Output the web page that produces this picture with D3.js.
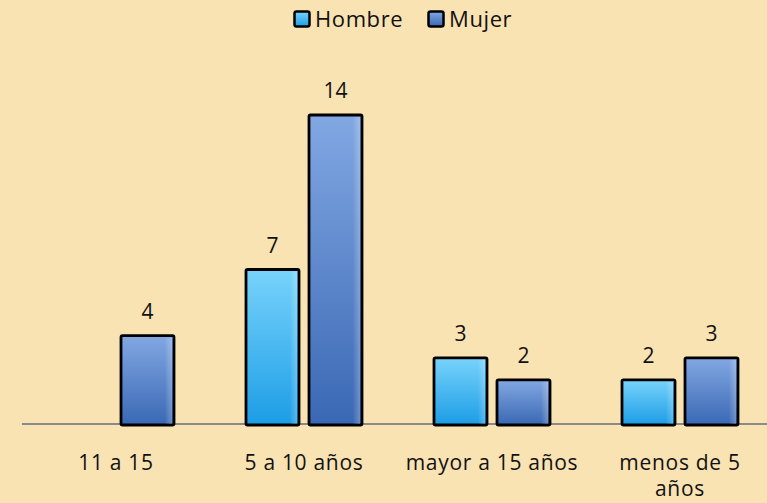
<!DOCTYPE html>
<meta charset="utf-8">
<style>
    body { margin: 0; background: #fae3b3; }
    text { font-family: "Open Sans", sans-serif; fill: #111; }
    .bar { stroke: #000; stroke-width: 2.8px; }
    .axis-line { stroke: #8a8a8a; stroke-width: 2px; }
</style>

<svg width="767" height="503"></svg>

<script src="https://cdnjs.cloudflare.com/ajax/libs/d3/7.8.5/d3.min.js"></script>
<script>
    var categories = ["11 a 15", "5 a 10 años", "mayor a 15 años", "menos de 5 años"];
    // how each category label breaks onto lines under the axis
    var labelLines = [["11 a 15"], ["5 a 10 años"], ["mayor a 15 años"], ["menos de 5", "años"]];
    var series = ["Hombre", "Mujer"];
    var hombre = [null, 7, 3, 2];
    var mujer = [4, 14, 2, 3];

    (function () {
        var svg = d3.select("svg"),
            width = +svg.attr("width"),
            height = +svg.attr("height"),
            baseY = 424;

        svg.append("rect")
            .attr("width", width)
            .attr("height", height)
            .attr("fill", "#fae3b3");

        var defs = svg.append("defs");
        var grads = [
            {id: "gH", top: "#78d3fb", bottom: "#1c9de6"},
            {id: "gM", top: "#82a8e3", bottom: "#3a68b4"}
        ];
        grads.forEach(function (g) {
            var lg = defs.append("linearGradient")
                .attr("id", g.id)
                .attr("x1", 0).attr("y1", 0)
                .attr("x2", 0).attr("y2", 1);
            lg.append("stop").attr("offset", "0%").attr("stop-color", g.top);
            lg.append("stop").attr("offset", "100%").attr("stop-color", g.bottom);
        });
        // soft highlight on the right edge of each bar
        var edge = defs.append("linearGradient")
            .attr("id", "edge")
            .attr("x1", 0).attr("y1", 0).attr("x2", 1).attr("y2", 0);
        edge.append("stop").attr("offset", "0%").attr("stop-color", "#fff").attr("stop-opacity", 0);
        edge.append("stop").attr("offset", "85%").attr("stop-color", "#fff").attr("stop-opacity", 0);
        edge.append("stop").attr("offset", "100%").attr("stop-color", "#fff").attr("stop-opacity", 0.25);

        var x0 = d3.scaleBand()
            .domain(categories)
            .range([22, 774]);

        var x1 = d3.scaleBand()
            .domain(series)
            .range([36, 152])
            .paddingInner(10 / 63);

        var y = d3.scaleLinear()
            .domain([0, 14])
            .range([baseY, 115]);

        var fills = {Hombre: "url(#gH)", Mujer: "url(#gM)"};

        var rows = [];
        categories.forEach(function (c, i) {
            rows.push({cat: c, s: "Hombre", v: hombre[i]});
            rows.push({cat: c, s: "Mujer", v: mujer[i]});
        });
        rows = rows.filter(function (d) { return d.v != null; });

        // axis line
        svg.append("line")
            .attr("class", "axis-line")
            .attr("x1", x0.range()[0])
            .attr("x2", width)
            .attr("y1", baseY)
            .attr("y2", baseY);

        var g = svg.append("g");

        g.selectAll("rect.bar")
            .data(rows)
            .enter()
            .append("rect")
            .attr("class", "bar")
            .attr("x", function (d) { return x0(d.cat) + x1(d.s); })
            .attr("y", function (d) { return y(d.v); })
            .attr("width", x1.bandwidth())
            .attr("height", function (d) { return baseY + 1 - y(d.v); })
            .attr("rx", 1.5)
            .attr("fill", function (d) { return fills[d.s]; });

        g.selectAll("rect.hl")
            .data(rows)
            .enter()
            .append("rect")
            .attr("class", "hl")
            .attr("x", function (d) { return x0(d.cat) + x1(d.s) + 2; })
            .attr("y", function (d) { return y(d.v) + 2; })
            .attr("width", x1.bandwidth() - 4)
            .attr("height", function (d) { return baseY - 2 - y(d.v); })
            .attr("fill", "url(#edge)");

        g.selectAll("text.val")
            .data(rows)
            .enter()
            .append("text")
            .attr("class", "val")
            .attr("x", function (d) { return x0(d.cat) + x1(d.s) + x1.bandwidth() / 2; })
            .attr("y", function (d) { return y(d.v) - 17; })
            .attr("text-anchor", "middle")
            .style("font-size", "21px")
            .text(function (d) { return d.v; });

        // category labels
        svg.append("g")
            .selectAll("text")
            .data(categories)
            .enter()
            .append("text")
            .attr("x", function (d) { return x0(d) + x0.bandwidth() / 2; })
            .attr("y", 470)
            .attr("text-anchor", "middle")
            .style("font-size", "21px")
            .style("letter-spacing", "0.7px")
            .each(function (d, i) {
                var t = d3.select(this),
                    cx = +t.attr("x");
                labelLines[i].forEach(function (l, j) {
                    t.append("tspan")
                        .attr("x", cx)
                        .attr("dy", j ? "1.25em" : 0)
                        .text(l);
                });
            });

        // legend
        var legend = svg.append("g");
        var legX = [293, 427];
        series.forEach(function (s, i) {
            var lg = legend.append("g")
                .attr("transform", "translate(" + legX[i] + ",10)");
            lg.append("rect")
                .attr("width", 15)
                .attr("height", 15)
                .attr("x", 1.5)
                .attr("y", 1.5)
                .attr("rx", 2)
                .attr("fill", fills[s])
                .attr("stroke", "#000")
                .attr("stroke-width", 2.5);
            lg.append("text")
                .attr("x", 22)
                .attr("y", 17)
                .style("font-size", "22px")
                .style("letter-spacing", "0.6px")
                .text(s);
        });
    })();
</script>
